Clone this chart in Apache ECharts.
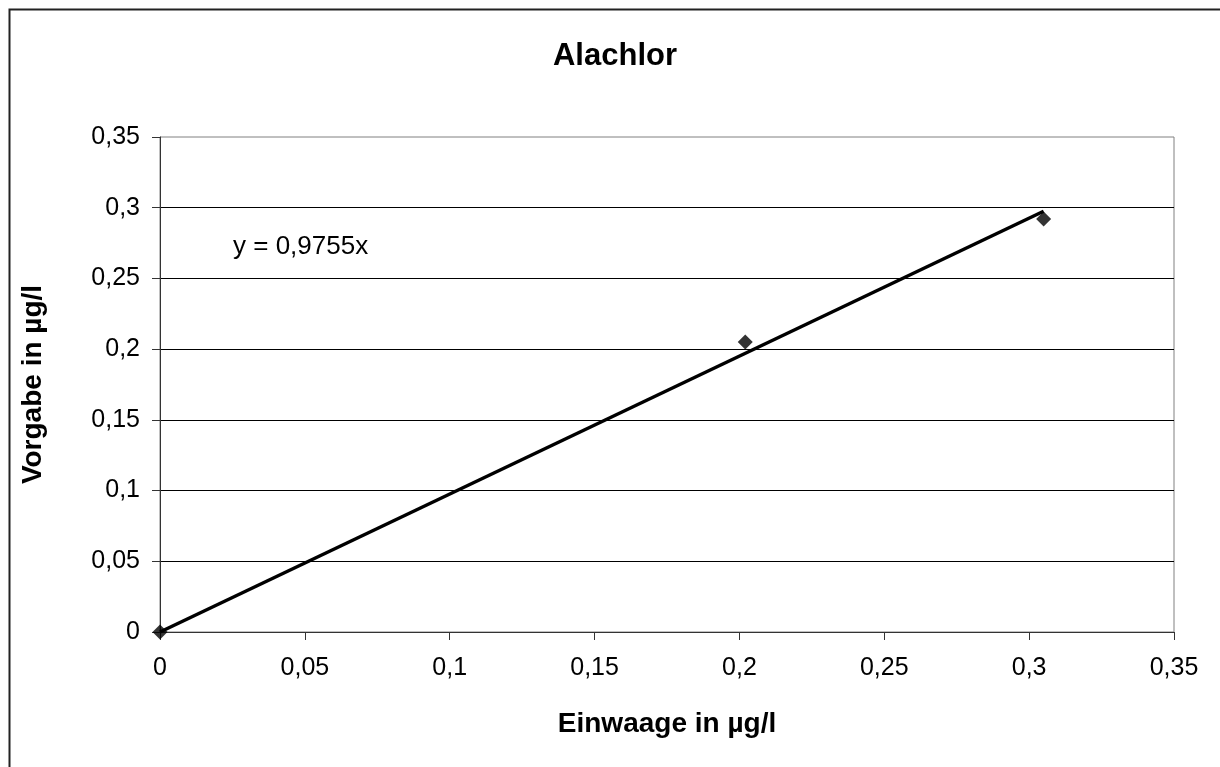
<!DOCTYPE html>
<html>
<head>
<meta charset="utf-8">
<script src="https://cdn.jsdelivr.net/npm/echarts@6/dist/echarts.min.js"></script>
<style>
html,body{margin:0;padding:0;background:#fff;}
#chart{width:1220px;height:767px;}
</style>
</head>
<body>
<div id="chart"></div>
<script>
// Data
const pointsX = [0, 0.202, 0.305];
const pointsY = [0, 0.205, 0.292];
const trendX = [0, 0.305];
const trendY = [0, 0.2975];
const xTicks = ['0', '0,05', '0,1', '0,15', '0,2', '0,25', '0,3', '0,35'];
const yTicks = ['0', '0,05', '0,1', '0,15', '0,2', '0,25', '0,3', '0,35'];
const titleText = 'Alachlor';
const xName = 'Einwaage in µg/l';
const yName = 'Vorgabe in µg/l';
const equationText = 'y = 0,9755x';

const FONT = "'Liberation Sans', Arial, sans-serif";

const chart = echarts.init(document.getElementById('chart'));
chart.setOption({
  animation: false,
  backgroundColor: '#fff',
  textStyle: { fontFamily: FONT },
  title: {
    text: titleText,
    left: 610, top: 36,
    textAlign: 'center',
    textStyle: { fontFamily: FONT, fontSize: 31, fontWeight: 'bold', color: '#000' }
  },
  grid: {
    left: 160, right: 46, top: 137, bottom: 135,
    show: true, borderColor: '#808080', borderWidth: 1, backgroundColor: 'transparent'
  },
  xAxis: {
    type: 'value', min: 0, max: 0.35, interval: 0.05,
    name: xName, nameLocation: 'middle', nameGap: 78,
    nameTextStyle: { fontFamily: FONT, fontSize: 28, fontWeight: 'bold', color: '#000' },
    axisLine: { show: true, onZero: false, lineStyle: { color: '#333', width: 1 } },
    axisTick: { show: true, inside: false, length: 8, lineStyle: { color: '#333' } },
    axisLabel: { margin: 24, fontFamily: FONT, fontSize: 25, color: '#000',
      formatter: (v) => xTicks[Math.round(v / 0.05)] },
    splitLine: { show: false }
  },
  yAxis: {
    type: 'value', min: 0, max: 0.35, interval: 0.05,
    name: yName, nameLocation: 'middle', nameGap: 113, nameRotate: 90,
    nameTextStyle: { fontFamily: FONT, fontSize: 28, fontWeight: 'bold', color: '#000' },
    axisLine: { show: true, onZero: false, lineStyle: { color: '#333', width: 1 } },
    axisTick: { show: true, inside: false, length: 8, lineStyle: { color: '#333' } },
    axisLabel: { margin: 20, fontFamily: FONT, fontSize: 25, color: '#000',
      formatter: (v) => yTicks[Math.round(v / 0.05)] },
    splitLine: { show: true, showMinLine: false, showMaxLine: false, lineStyle: { color: '#000', width: 1 } }
  },
  series: [
    {
      type: 'scatter',
      data: pointsX.map((x, i) => [x, pointsY[i]]),
      symbol: 'diamond', symbolSize: 15,
      itemStyle: { color: '#000' },
      clip: false, z: 3
    },
    {
      type: 'line',
      data: trendX.map((x, i) => [x, trendY[i]]),
      showSymbol: false, symbol: 'none',
      lineStyle: { color: '#000', width: 3.5 },
      clip: false, z: 4
    }
  ],
  graphic: [
    { type: 'rect', left: 7, top: 7, shape: { x: 0, y: 0, width: 1240, height: 800 },
      style: { fill: 'none', stroke: '#222', lineWidth: 2 }, silent: true, z: -1 },
    { type: 'text', left: 233, top: 234,
      style: { text: equationText, fontFamily: FONT, fontSize: 26, fill: '#000' } }
  ]
});
</script>
</body>
</html>
